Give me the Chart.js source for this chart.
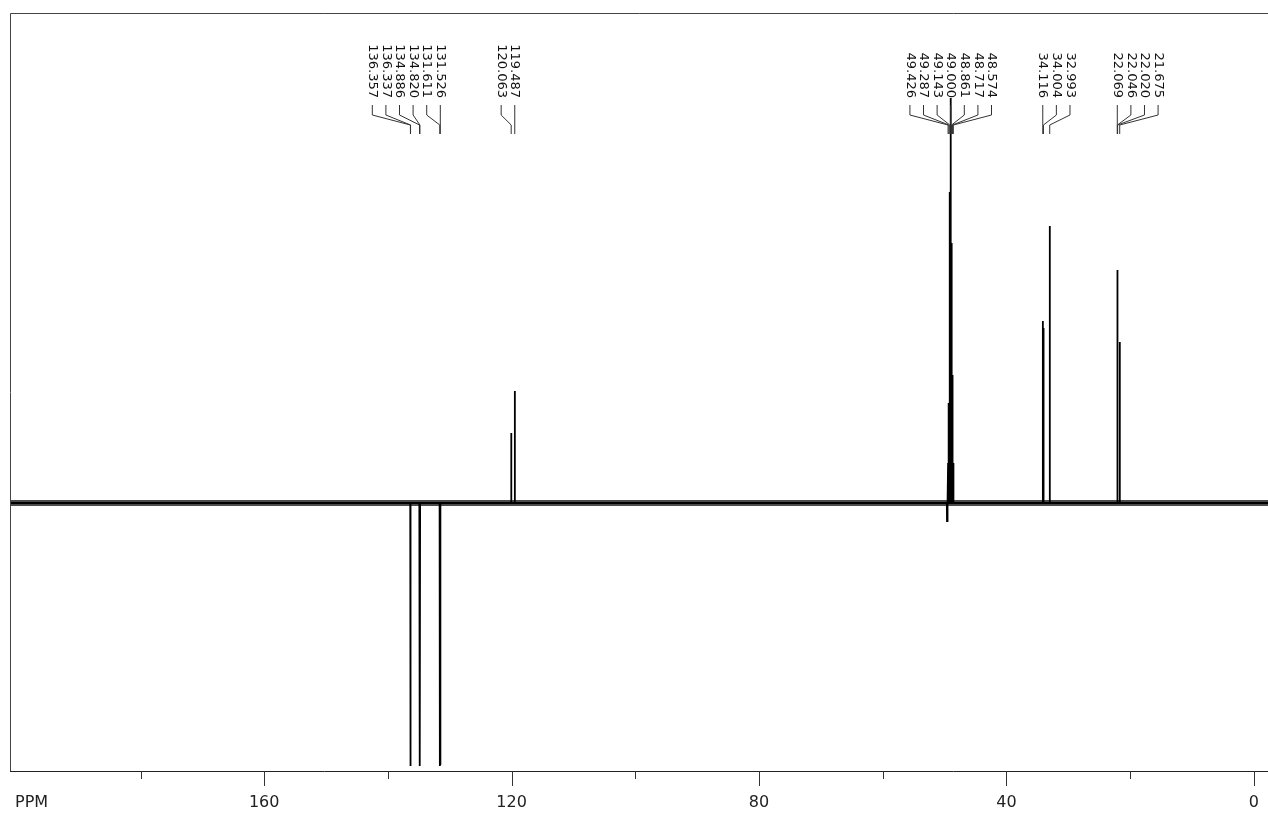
<!DOCTYPE html>
<html>
<head>
<meta charset="utf-8">
<script src="https://cdn.jsdelivr.net/npm/chart.js@4.4.1/dist/chart.umd.min.js"></script>
<style>
  html, body { margin: 0; padding: 0; background: #fff; }
  #wrap { width: 1268px; height: 814px; }
</style>
</head>
<body>
<div id="wrap"><canvas id="nmr"></canvas></div>
<script>
// peak list (ppm, intensity, baseline = 0)
const peakPpm = [136.357, 136.337, 134.886, 134.820, 131.611, 131.526,
                 120.063, 119.487,
                 49.426, 49.287, 49.143, 49.000, 48.861, 48.717, 48.574,
                 34.116, 34.004, 32.993,
                 22.069, 22.046, 22.020, 21.675];
const peakValues = [-263, -262, -263, -262, -263, -262,
                    70, 112,
                    40, 100, 311, 405, 260, 128, 40,
                    182, 175, 277,
                    66, 233, 195, 161];
// small dispersive dip next to the solvent multiplet
const dipPpm = [49.6];
const dipValues = [-18];

const xMin = -2.3, xMax = 201.1;
const yMin = -268, yMax = 490;
const majorTicks = [160, 120, 80, 40, 0];
const minorTicks = [180, 140, 100, 60, 20];

// one narrow triangle per line
const lineHalfWidth = 0.03;
const spectrum = [];
const allPeaks = peakPpm.map((p, i) => ({ x: p, y: peakValues[i] }))
  .concat(dipPpm.map((p, i) => ({ x: p, y: dipValues[i] })))
  .sort((a, b) => b.x - a.x);
spectrum.push({ x: xMax, y: 0 });
allPeaks.forEach(pk => {
  spectrum.push({ x: pk.x + lineHalfWidth, y: 0 });
  spectrum.push({ x: pk.x, y: pk.y });
  spectrum.push({ x: pk.x - lineHalfWidth, y: 0 });
});
spectrum.push({ x: xMin, y: 0 });

// label groups (indexes into peakPpm) and how each is fanned out
const labelGroups = [[0, 1, 2, 3, 4, 5], [6, 7], [8, 9, 10, 11, 12, 13, 14],
                     [15, 16, 17], [18, 19, 20, 21]];
const groupAlign = ["right", "right", "center", "left", "left"];
const labelStep = 13.6;

const peakLabels = {
  id: "peakLabels",
  afterDatasetsDraw(chart) {
    const ctx = chart.ctx;
    const xs = chart.scales.x;
    const items = [];
    labelGroups.forEach((grp, gi) => {
      const cl = grp.map(i => ({ ppm: peakPpm[i], px: xs.getPixelForValue(peakPpm[i]) }))
        .sort((a, b) => a.px - b.px);
      const n = cl.length;
      const align = groupAlign[gi];
      let start;
      if (align === "left") start = cl[0].px;
      else if (align === "right") start = cl[n - 1].px - (n - 1) * labelStep;
      else {
        const mean = cl.reduce((s, it) => s + it.px, 0) / n;
        start = mean - (n - 1) * labelStep / 2;
      }
      cl.forEach((it, k) => { it.lx = start + k * labelStep; items.push(it); });
    });

    ctx.save();
    ctx.strokeStyle = "#333";
    ctx.lineWidth = 1;
    items.forEach(it => {
      ctx.beginPath();
      ctx.moveTo(it.lx, 105);
      ctx.lineTo(it.lx, 115);
      ctx.lineTo(it.px, 125);
      ctx.lineTo(it.px, 134);
      ctx.stroke();
    });
    ctx.fillStyle = "#111";
    ctx.font = "13px 'DejaVu Sans'";
    ctx.textAlign = "right";
    ctx.textBaseline = "middle";
    items.forEach(it => {
      ctx.save();
      ctx.translate(it.lx, 98);
      ctx.rotate(Math.PI / 2);
      ctx.fillText(it.ppm.toFixed(3), 0, 0);
      ctx.restore();
    });
    ctx.restore();
  }
};

const frameAxis = {
  id: "frameAxis",
  afterDraw(chart) {
    const ctx = chart.ctx;
    const a = chart.chartArea;
    const xs = chart.scales.x;
    ctx.save();
    ctx.strokeStyle = "#444";
    ctx.lineWidth = 1;
    ctx.beginPath();
    ctx.moveTo(a.left + 0.5, a.bottom + 0.5);
    ctx.lineTo(a.left + 0.5, a.top + 0.5);
    ctx.lineTo(a.right, a.top + 0.5);
    ctx.stroke();
    ctx.strokeStyle = "#222";
    ctx.beginPath();
    ctx.moveTo(a.left, a.bottom + 0.5);
    ctx.lineTo(a.right, a.bottom + 0.5);
    ctx.stroke();
    ctx.strokeStyle = "#333";
    majorTicks.forEach(v => {
      const x = Math.round(xs.getPixelForValue(v)) + 0.5;
      ctx.beginPath(); ctx.moveTo(x, a.bottom); ctx.lineTo(x, a.bottom + 15); ctx.stroke();
    });
    minorTicks.forEach(v => {
      const x = Math.round(xs.getPixelForValue(v)) + 0.5;
      ctx.beginPath(); ctx.moveTo(x, a.bottom); ctx.lineTo(x, a.bottom + 8); ctx.stroke();
    });
    ctx.fillStyle = "#222";
    ctx.font = "16px 'DejaVu Sans'";
    ctx.textBaseline = "middle";
    ctx.textAlign = "center";
    majorTicks.forEach(v => {
      ctx.fillText(String(v), xs.getPixelForValue(v), 803);
    });
    ctx.textAlign = "left";
    ctx.fillText("PPM", 15, 803);
    ctx.restore();
  }
};

const ctx = document.getElementById("nmr").getContext("2d");
new Chart(ctx, {
  type: "line",
  data: {
    datasets: [{
      label: "noise",
      data: [{ x: xMax, y: 0 }, { x: xMin, y: 0 }],
      borderColor: "rgba(30,30,30,0.8)", // baseline noise band
      borderWidth: 6,
      pointRadius: 0,
      order: 2
    }, {
      label: "spectrum",
      data: spectrum,
      borderColor: "#000",
      borderWidth: 1.8,
      pointRadius: 0,
      tension: 0,
      order: 1
    }]
  },
  options: {
    responsive: true,
    maintainAspectRatio: false,
    animation: false,
    events: [],
    layout: { padding: { left: 10, top: 13, right: 0, bottom: 43 } },
    plugins: {
      legend: { display: false },
      tooltip: { enabled: false }
    },
    scales: {
      x: { type: "linear", reverse: true, min: xMin, max: xMax, display: false },
      y: { type: "linear", min: yMin, max: yMax, display: false }
    }
  },
  plugins: [peakLabels, frameAxis]
});
</script>
</body>
</html>
